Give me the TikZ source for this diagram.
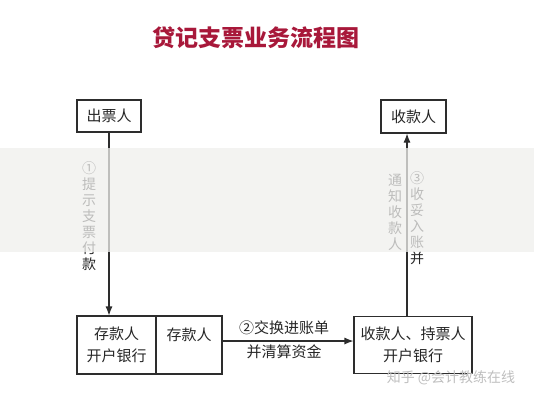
\documentclass[tikz,border=0pt]{standalone}
\usepackage{fontspec}
\setmainfont{Noto Sans CJK SC}
\usetikzlibrary{arrows.meta}
\definecolor{ttl}{RGB}{168,24,58}
\definecolor{edge}{RGB}{45,45,45}
\definecolor{band}{RGB}{239,239,237}
\tikzset{
  box/.style={draw=edge, line width=1.1pt, fill=white, inner sep=0pt, align=center, font=\fontsize{15}{22}\selectfont, text=black!85},
  arr/.style={draw=edge, line width=1.1pt, -{Latex[length=9pt,width=7pt]}},
  lbl/.style={font=\fontsize{15}{18}\selectfont, text=black!85, inner sep=0pt},
  vlbl/.style={font=\fontsize{14}{16}\selectfont, text=black!85, inner sep=0pt, align=center}
}
\begin{document}
\begin{tikzpicture}[x=1pt,y=-1pt]
\useasboundingbox (0,0) rectangle (534,400);
\fill[white] (0,0) rectangle (534,400);
% title
\node[font=\fontsize{23}{25}\selectfont\bfseries, text=ttl, inner sep=0pt] (title) at (256,38) {贷记支票业务流程图};
% boxes
\node[box, minimum width=64pt, minimum height=32pt] (chu) at (109,116) {出票人};
\node[box, minimum width=65pt, minimum height=33pt] (shou) at (413.5,116.5) {收款人};
\node[box, minimum width=79pt, minimum height=58pt] (bl1) at (116.5,345) {存款人\\开户银行};
\node[box, minimum width=66pt, minimum height=58pt] (bl2) at (189,345) {存款人\\\mbox{}};
\node[box, minimum width=118pt, minimum height=57pt] (br) at (413,345) {收款人、持票人\\开户银行};
% connectors
\draw[arr] (chu.south) -- (chu.south |- bl1.north);
\draw[arr] ([yshift=4pt]bl2.east) -- ([yshift=4pt]br.west);
\draw[arr] ([xshift=-6pt]br.north) -- ([xshift=-6pt]br.north |- shou.south);
% labels
\node[vlbl] (l1) at (89,216) {①\\提\\示\\支\\票\\付\\款};
\node[lbl] (l2a) at (284,328) {②交换进账单};
\node[lbl] (l2b) at (284,352) {并清算资金};
\node[vlbl] (l3a) at (417,218) {③\\收\\妥\\入\\账\\并};
\node[vlbl] (l3b) at (395,212) {通\\知\\收\\款\\人};
% watermark
\node[font=\fontsize{14}{16}\selectfont, text=black!25, inner sep=0pt] (wm) at (451,378) {知乎 @会计教练在线};
% washed band
\fill[band, opacity=0.75] (0,148) rectangle (534,252);
\end{tikzpicture}
\end{document}
